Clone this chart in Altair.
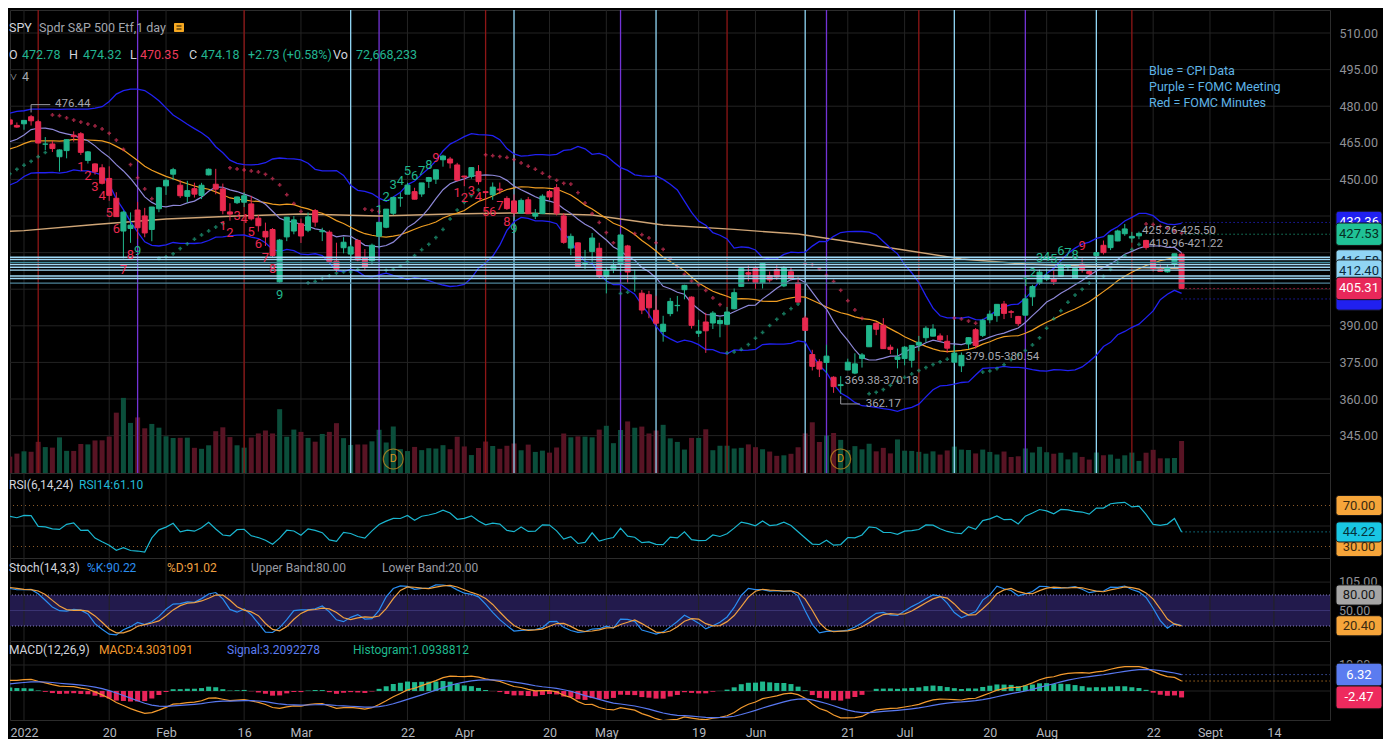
import altair as alt
import numpy as np
import pandas as pd

FONT = "Roboto"
BG = "#000000"
GRID = "#232323"
UP = "#21b68c"
DOWN = "#e8294f"
VOL_UP = "#0b4e3b"
VOL_DOWN = "#581424"
TXT = "#d1d4dc"
TXT_G = "#22b591"
TXT_R = "#ee3a5a"
TXT_GRAY = "#a3a6ae"

W = 1320
H_MAIN, H_RSI, H_STO, H_MACD = 463, 85, 83, 79
TOP_MAIN = 8
TOP_RSI = TOP_MAIN + H_MAIN
TOP_STO = TOP_RSI + H_RSI
TOP_MACD = TOP_STO + H_STO

# ---------------- data ----------------
# Oct-Nov 2021 closes: only used to warm up RSI / MACD (off-screen)
WARM_CLOSE = [434.24, 428.64, 433.10, 434.90, 438.66, 437.86, 434.69, 433.62, 435.18, 442.50,
              445.87, 447.19, 450.64, 452.41, 453.59, 453.12, 455.55, 455.96, 453.94, 458.32, 459.25,
              460.04, 461.90, 466.09, 467.69, 468.53, 468.93, 467.38, 463.62, 463.77, 467.27,
              467.43, 469.28, 468.14, 469.73, 468.89, 467.57, 468.19, 469.44, 458.97, 464.60, 455.56]

# Dec 2021 daily bars (last ones sit at the left edge of the chart)
DEC_O = [461.64, 450.73, 459.17, 456.13, 464.41, 468.70, 468.15, 469.23, 470.19, 463.09, 463.42,
         472.57, 461.55, 454.48, 458.61, 462.79, 468.75, 472.06, 477.72, 476.98, 477.93, 475.64]
DEC_H = [464.67, 459.07, 460.30, 460.79, 468.88, 470.00, 469.63, 470.90, 470.56, 465.74, 470.86,
         472.87, 464.74, 455.40, 463.21, 467.81, 472.19, 477.31, 478.81, 478.56, 479.00, 476.86]
DEC_L = [450.29, 450.31, 448.92, 453.56, 458.65, 466.83, 466.14, 466.51, 466.27, 460.25, 460.74,
         464.80, 458.06, 451.14, 456.31, 462.58, 468.64, 472.01, 476.06, 475.92, 475.67, 474.67]
DEC_C = [450.50, 457.40, 453.42, 458.79, 468.28, 469.52, 466.35, 470.74, 466.57, 463.36, 470.60,
         466.45, 459.87, 454.98, 463.06, 467.69, 470.60, 477.26, 476.87, 477.48, 476.16, 474.96]
DEC_V = [132, 127, 137, 98, 95, 72, 61, 85, 87, 98, 116, 116, 182, 107, 69, 58, 57, 56, 47, 54, 55, 65]

# 2022 daily bars, Jan 3 .. Aug 26 (raw prices, volume in millions)
OPEN_22 = [
    476.30, 479.22, 477.16, 467.89, 467.95, 462.70, 465.23, 471.59, 472.19, 461.19,
    459.74, 458.13, 453.75, 445.56, 432.03, 433.06, 440.72, 438.26, 432.68, 441.24,
    450.68, 455.50, 450.95, 446.35, 449.51, 446.73, 455.22, 451.34, 449.41, 439.92,
    443.73, 443.93, 443.22, 437.33, 431.89, 432.66, 411.02, 429.61, 432.03,
    435.04, 432.37, 440.47, 431.75, 431.55, 419.62, 425.14, 422.52, 428.12, 420.89,
    419.77, 429.89, 433.59, 438.00, 444.34, 445.86, 446.91, 445.94, 451.16, 452.06,
    460.02, 460.34, 457.89,
    453.31, 453.13, 455.22, 446.89, 445.59, 447.97, 444.11, 443.08, 438.03, 443.55,
    436.81, 437.86, 446.92, 448.54, 436.91, 423.67, 425.83, 417.24, 422.29, 423.59,
    412.07, 415.01, 417.08, 424.55, 411.10, 405.10, 404.49, 398.07, 389.37, 396.71,
    399.98, 406.53, 403.50, 388.62, 393.25, 392.83, 392.56, 392.31, 398.67, 407.91, 413.55,
    415.17, 409.42, 412.40, 414.78, 408.10, 413.93, 409.34, 394.88, 379.85, 376.85,
    376.58, 370.51, 365.51, 371.89, 370.62, 376.64, 381.40, 391.05, 390.23, 381.23, 376.24,
    376.56, 375.88, 382.11, 385.12, 385.76, 385.85, 383.65, 375.10, 373.61, 382.55,
    388.38, 386.08, 392.47, 394.16, 398.92, 395.75, 393.84, 394.36, 401.89, 407.58,
    409.15, 409.12, 410.30, 414.37, 409.66, 415.25, 412.22, 418.78, 422.99, 422.03,
    424.77, 427.73, 425.98, 426.86, 424.98, 417.05, 412.92, 412.11, 415.24, 419.39]
HIGH_22 = [
    477.85, 479.98, 477.98, 470.82, 469.20, 465.74, 469.85, 473.20, 472.88, 465.09,
    459.96, 459.61, 458.74, 448.06, 440.38, 439.72, 444.04, 441.59, 442.00, 450.28,
    453.63, 458.12, 452.97, 452.78, 451.99, 451.92, 457.88, 457.71, 451.61, 443.50,
    446.28, 448.06, 446.57, 438.66, 435.50, 433.26, 428.76, 437.84, 438.20,
    437.17, 439.72, 441.11, 433.37, 432.30, 427.21, 429.51, 426.43, 428.77, 424.55,
    426.84, 435.68, 441.07, 444.86, 446.46, 450.58, 448.49, 450.50, 452.98, 455.91,
    462.07, 461.20, 458.76,
    453.46, 456.91, 457.83, 447.18, 450.69, 450.63, 445.00, 445.75, 444.11, 444.73,
    439.75, 445.80, 447.57, 450.01, 438.08, 429.64, 426.04, 422.92, 429.87, 425.87,
    415.92, 418.93, 429.66, 425.00, 414.80, 406.41, 406.08, 404.04, 395.80, 403.18,
    403.97, 408.57, 403.80, 394.14, 397.03, 397.73, 395.15, 399.45, 407.04, 415.38, 416.46,
    416.24, 417.44, 414.04, 416.61, 416.22, 415.82, 411.74, 395.78, 381.81, 377.94,
    383.90, 370.94, 369.38, 376.53, 378.72, 378.83, 390.09, 391.36, 393.16, 382.27, 380.66,
    381.70, 381.98, 385.87, 389.83, 390.64, 386.87, 386.16, 381.92, 379.05, 385.25,
    389.09, 392.87, 396.26, 398.84, 400.18, 396.47, 394.06, 402.88, 406.80, 413.03,
    413.41, 412.60, 415.68, 415.09, 414.15, 417.62, 412.75, 420.01, 424.95, 427.21,
    429.40, 431.73, 428.50, 428.61, 425.26, 417.18, 415.42, 415.11, 419.56, 419.96]
LOW_22 = [
    473.85, 475.58, 468.28, 465.43, 464.65, 456.60, 462.05, 468.94, 463.44, 459.90,
    455.31, 451.29, 444.50, 437.95, 420.76, 427.15, 428.86, 429.45, 427.82, 439.81,
    446.94, 453.05, 445.71, 443.83, 445.85, 445.22, 455.00, 447.20, 438.94, 436.31,
    443.18, 441.94, 436.42, 431.82, 425.86, 421.35, 410.64, 427.86, 430.70,
    427.11, 431.57, 433.80, 427.88, 419.36, 415.12, 422.82, 420.44, 419.53, 415.79,
    418.42, 424.80, 433.19, 437.22, 440.68, 445.86, 443.71, 444.76, 448.43, 450.06,
    457.18, 456.47, 451.16,
    449.14, 452.26, 449.82, 443.49, 443.53, 445.94, 439.39, 436.65, 437.84, 437.68,
    435.61, 437.68, 443.48, 437.10, 425.44, 420.76, 416.07, 415.01, 417.60, 411.21,
    405.02, 413.36, 413.71, 409.44, 405.73, 396.50, 394.82, 391.96, 385.15, 395.61,
    397.60, 402.58, 390.55, 387.11, 380.54, 390.38, 386.96, 391.89, 398.45, 407.70, 410.03,
    406.93, 407.04, 409.51, 410.55, 407.61, 410.38, 401.44, 389.75, 373.30, 370.59,
    372.12, 364.08, 362.17, 371.81, 370.18, 372.89, 381.37, 386.16, 380.53, 378.42, 372.56,
    373.80, 372.90, 379.60, 383.27, 385.66, 383.50, 378.99, 374.66, 371.04, 380.54,
    380.66, 385.39, 391.03, 391.63, 392.75, 393.21, 389.95, 394.05, 398.15, 406.77,
    408.40, 406.74, 410.00, 412.44, 409.60, 411.83, 410.22, 416.40, 419.21, 421.03,
    424.68, 426.88, 424.06, 425.50, 421.22, 412.22, 412.30, 411.77, 413.88, 405.25]
CLOSE_22 = [
    477.71, 477.55, 468.38, 467.94, 466.09, 465.51, 469.75, 471.02, 464.53, 464.72,
    456.49, 451.75, 446.75, 437.98, 439.84, 434.47, 433.38, 431.24, 441.95, 449.91,
    452.95, 457.35, 446.60, 448.70, 447.26, 450.94, 457.54, 449.32, 440.46, 439.02,
    446.10, 446.60, 437.06, 434.23, 429.57, 421.95, 428.30, 437.75, 436.63,
    429.98, 437.89, 435.71, 432.17, 419.43, 416.25, 427.41, 425.48, 420.07, 417.00,
    426.17, 435.62, 441.07, 444.52, 444.39, 449.59, 443.80, 450.49, 452.69, 455.91,
    461.55, 458.70, 451.64,
    452.92, 456.80, 451.03, 446.52, 448.77, 447.57, 439.92, 438.29, 443.31, 437.79,
    437.97, 445.04, 444.71, 438.06, 426.04, 428.51, 416.10, 417.27, 427.81, 412.00,
    414.48, 416.38, 429.06, 413.81, 411.34, 398.17, 399.09, 392.75, 392.34, 401.72,
    400.09, 408.32, 391.86, 389.46, 389.63, 396.92, 393.89, 397.37, 405.31, 415.26, 412.93,
    409.59, 417.39, 410.54, 411.79, 415.74, 411.22, 401.44, 389.80, 375.00, 373.87,
    379.20, 366.65, 365.86, 375.07, 374.39, 378.06, 390.08, 388.59, 380.65, 380.34, 377.25,
    381.24, 381.96, 383.25, 388.99, 388.67, 384.23, 380.83, 378.83, 377.91, 385.13,
    381.95, 392.27, 394.77, 398.79, 395.09, 395.57, 390.89, 401.04, 406.07, 411.99,
    410.77, 408.06, 415.17, 414.80, 413.47, 412.99, 411.35, 419.99, 419.99, 427.10,
    428.86, 429.70, 426.65, 427.89, 422.14, 413.35, 412.35, 413.67, 419.51, 405.31]
VOLUME_22 = [
    72.7, 71.2, 104.5, 86.9, 85.1, 119.4, 74.3, 74.0, 97.3, 95.9,
    109.1, 109.6, 122.4, 202.3, 251.8, 167.9, 186.4, 149.9, 164.5, 152.0,
    123.2, 117.4, 118.0, 118.5, 84.4, 81.1, 92.9, 140.1, 153.2, 120.4,
    92.9, 85.0, 118.8, 132.6, 142.2, 132.6, 213.9, 121.6, 145.6,
    137.8, 117.7, 105.0, 130.9, 137.9, 167.1, 116.9, 94.0, 95.6, 95.7,
    106.2, 144.9, 102.3, 155.9, 80.1, 73.6, 87.4, 76.7, 83.1, 81.9,
    93.3, 79.7, 121.7,
    89.0, 60.2, 83.9, 105.5, 90.5, 81.1, 91.3, 99.0, 76.2, 95.2,
    70.7, 75.0, 68.3, 85.5, 132.4, 119.6, 122.8, 122.0, 119.6, 145.5,
    158.3, 100.0, 144.2, 172.9, 151.8, 155.6, 132.5, 142.4, 161.5, 116.2,
    104.2, 78.6, 117.7, 117.5, 146.6, 76.4, 91.4, 91.5, 82.2, 84.4, 95.9,
    86.6, 79.6, 71.9, 57.5, 59.3, 64.4, 86.3, 132.9, 170.0, 104.0,
    125.7, 134.1, 111.1, 76.8, 90.1, 79.3, 98.1, 72.6, 84.3, 65.7, 112.5,
    74.8, 74.1, 71.0, 64.8, 72.6, 61.7, 75.5, 88.5, 78.5, 77.2,
    65.6, 78.5, 70.6, 62.0, 72.0, 53.6, 56.0, 82.3, 68.5, 87.7,
    69.6, 64.6, 67.9, 45.6, 68.7, 53.9, 44.9, 68.7, 59.5, 61.8,
    47.8, 59.3, 68.4, 40.6, 68.0, 77.7, 49.2, 49.3, 50.3, 107.2]
for arr in (OPEN_22, HIGH_22, LOW_22, CLOSE_22, VOLUME_22):
    assert len(arr) == 164, len(arr)

# ex-dividend bars (position counted from Dec 1 2021) and amounts: chart is dividend-adjusted
EX_DIV_POS = [12, 74, 137]
EX_DIV_AMT = [1.633, 1.366, 1.577]

# event lines (trading-day index from Jan 3 2022)
EVENT_I = [2, 16, 31, 46, 50, 65, 69, 84, 89, 99, 110, 113, 126, 131, 141, 151, 156]
EVENT_KIND = ["min", "fomc", "min", "cpi", "fomc", "min", "cpi", "fomc", "cpi", "min",
              "cpi", "fomc", "min", "cpi", "fomc", "cpi", "min"]
EVENT_COLOR = {"min": "#8e1616", "fomc": "#7333d6", "cpi": "#92d7f6"}

# long moving average (index, price)
LONG_MA_I = [-3, 0, 10, 20, 30, 39, 50, 60, 70, 80, 90, 100, 109, 123, 132, 141, 152, 163]
LONG_MA_P = [428.6, 429.0, 431.5, 433.8, 435.0, 435.8, 435.0, 435.8, 436.3, 435.4,
             431.3, 429.5, 427.6, 421.5, 417.4, 415.3, 414.2, 413.5]

# horizontal level lines
HLINE_P = [418.1, 417.2, 416.0, 415.1, 414.0, 412.8, 410.4, 409.4, 407.5]
HLINE_C = ["#9fd8f5", "#9fd8f5", "#3f8c9c", "#9fd8f5", "#9fd8f5", "#9fd8f5", "#9fd8f5", "#9fd8f5", "#4e8399"]

# x ticks
TICK_I = [0, 12, 20, 31, 39, 54, 62, 74, 82, 95, 103, 116, 124, 136, 144, 159, 167, 176]
TICK_LABEL = ["2022", "20", "Feb", "16", "Mar", "22", "Apr", "20", "May", "19", "Jun", "21",
              "Jul", "20", "Aug", "22", "Sept", "14"]

PRICE_GRID = [345, 360, 375, 390, 405, 420, 435, 450, 465, 480, 495, 510]
PRICE_LABELS = [345, 360, 375, 390, 450, 465, 480, 495, 510]

# ---------------- derived series ----------------
nw = len(WARM_CLOSE)
o_raw = np.array(DEC_O + OPEN_22, float)
h_raw = np.array(DEC_H + HIGH_22, float)
l_raw = np.array(DEC_L + LOW_22, float)
v_all = np.array(DEC_V + VOLUME_22, float)
c_all_raw = np.array(WARM_CLOSE + DEC_C + CLOSE_22, float)
n = len(o_raw)

adj = np.ones(len(c_all_raw))
for pos, amt in zip(EX_DIV_POS, EX_DIV_AMT):
    p = pos + nw
    adj[:p] *= 1 - amt / c_all_raw[p - 1]
c_all = c_all_raw * adj
fb = adj[nw:]
o, h, l, c = o_raw * fb, h_raw * fb, l_raw * fb, c_all[nw:]

cs = pd.Series(c_all)
sma10 = cs.rolling(10).mean().values[nw:]
sma20s = cs.rolling(20).mean()
std20 = cs.rolling(20).std(ddof=0)
sma20 = sma20s.values[nw:]
bbu = (sma20s + 2 * std20).values[nw:]
bbl = (sma20s - 2 * std20).values[nw:]

delta = cs.diff()
ag = delta.clip(lower=0).ewm(alpha=1 / 14, adjust=False).mean()
al = (-delta.clip(upper=0)).ewm(alpha=1 / 14, adjust=False).mean()
rsi = (100 - 100 / (1 + ag / al)).values[nw:]

ema12 = cs.ewm(span=12, adjust=False).mean()
ema26 = cs.ewm(span=26, adjust=False).mean()
macd_s = ema12 - ema26
sig_s = macd_s.ewm(span=9, adjust=False).mean()
macd = macd_s.values[nw:]
sig = sig_s.values[nw:]
hist = (macd_s - sig_s).values[nw:]

hs, ls, ccs = pd.Series(h), pd.Series(l), pd.Series(c)
ll14 = ls.rolling(14).min()
hh14 = hs.rolling(14).max()
rawk = 100 * (ccs - ll14) / (hh14 - ll14)
stk = rawk.rolling(3).mean()
std_ = stk.rolling(3).mean()


def psar(hh, lw, step=0.02, mx=0.2):
    out = np.zeros(len(hh))
    upt = np.zeros(len(hh), bool)
    up, af, ep, s = True, step, hh[0], lw[0]
    out[0], upt[0] = s, up
    for t in range(1, len(hh)):
        s = s + af * (ep - s)
        if up:
            s = min(s, lw[t - 1], lw[t - 2] if t > 1 else lw[t - 1])
            if lw[t] < s:
                up, s, ep, af = False, ep, lw[t], step
            elif hh[t] > ep:
                ep, af = hh[t], min(af + step, mx)
        else:
            s = max(s, hh[t - 1], hh[t - 2] if t > 1 else hh[t - 1])
            if hh[t] > s:
                up, s, ep, af = True, ep, hh[t], step
            elif lw[t] < ep:
                ep, af = lw[t], min(af + step, mx)
        out[t], upt[t] = s, up
    return out, upt


sar, sar_up = psar(h, l)


def td_setup(cc, sign):
    cnt = np.zeros(len(cc), int)
    for t in range(4, len(cc)):
        cnt[t] = cnt[t - 1] + 1 if sign * (cc[t] - cc[t - 4]) > 0 else 0
    show = np.zeros(len(cc), int)
    for t in range(len(cc)):
        if cnt[t] == 9:
            for k in range(9):
                show[t - k] = 9 - k
    return show


td_buy = td_setup(c_all, -1)[nw:]
td_sell = td_setup(c_all, 1)[nw:]

idx = np.arange(n) - len(DEC_O)
upb = c >= o
df = pd.DataFrame({
    "i": idx, "o": o, "h": h, "l": l, "c": c, "v": v_all,
    "col": np.where(upb, UP, DOWN), "vcol": np.where(upb, VOL_UP, VOL_DOWN),
    "sma10": sma10, "sma20": sma20, "bbu": bbu, "bbl": bbl,
    "sar": sar, "sarcol": np.where(sar_up, "#1fa37f", "#d8325a"),
    "rsi": rsi, "k": stk.values, "d": std_.values,
    "macd": macd, "sig": sig, "hist": hist, "hcol": np.where(hist >= 0, "#1fb88d", "#e8245a"),
    "tdb": td_buy, "tds": td_sell,
})
df = df[df.i >= -4].reset_index(drop=True)

td_b = df[df.tdb > 0].copy()
td_b["n"] = td_b.tdb.astype(str)
td_b["tc"] = np.where(td_b["n"] == "9", UP, DOWN)
td_s = df[df.tds > 0].copy()
td_s["n"] = td_s.tds.astype(str)
td_s["tc"] = np.where(td_s["n"] == "9", DOWN, UP)

ev = pd.DataFrame({"i": EVENT_I, "ec": [EVENT_COLOR[k] for k in EVENT_KIND]})
lma = pd.DataFrame({"i": LONG_MA_I, "p": LONG_MA_P})
hl = pd.DataFrame({"p": HLINE_P, "hc": HLINE_C})
ticks = pd.DataFrame({"i": TICK_I})
last = df.iloc[[-1]]


# ---------------- scales (pixel layout of the reference) ----------------
def lin(v1, y1, v2, y2, top, bot):
    k = (y2 - y1) / (v2 - v1)
    return [v1 + (bot - y1) / k, v1 + (top - y1) / k]


XS = alt.Scale(domain=[-1.97, 183.9], nice=False, zero=False, padding=0)
YS = alt.Scale(domain=lin(510, 31, 345, 433.6, TOP_MAIN, TOP_MAIN + H_MAIN), nice=False, zero=False)
VS = alt.Scale(domain=[0, 252 * (H_MAIN - 1) / 75], nice=False, zero=False)
RS = alt.Scale(domain=lin(70, 503.5, 30, 544.5, TOP_RSI, TOP_RSI + H_RSI), nice=False, zero=False)
SS = alt.Scale(domain=lin(80, 593, 20, 624, TOP_STO, TOP_STO + H_STO), nice=False, zero=False)
MS = alt.Scale(domain=lin(10, 663, 0, 689, TOP_MACD, TOP_MACD + H_MACD), nice=False, zero=False)


def X():
    return alt.X("i:Q", scale=XS, axis=None)


def Yp(f, s=YS):
    return alt.Y(f"{f}:Q", scale=s, axis=None)


def texts(rows, size=12.5, top=8):
    d = pd.DataFrame(rows, columns=["t", "x", "y", "c"])
    d["x"] = d["x"] - 9
    d["y"] = d["y"] - top
    return alt.Chart(d).mark_text(font=FONT, fontSize=size, align="left", baseline="middle").encode(
        x=alt.X("x:Q", scale=None, axis=None), y=alt.Y("y:Q", scale=None, axis=None),
        text="t:N", color=alt.Color("c:N", scale=None))


def boxes(items, scale, half):
    out = []
    for lab, val, fill, tcol in items:
        d = pd.DataFrame({"v": [val], "lab": [lab], "top": [val + half], "bot": [val - half]})
        out.append(alt.Chart(d).mark_rect(fill=fill, cornerRadius=3, stroke="#151515", strokeWidth=1).encode(
            x=alt.value(1326), x2=alt.value(1372), y=Yp("top", scale), y2="bot:Q"))
        if lab:
            out.append(alt.Chart(d).mark_text(font=FONT, fontSize=13, align="center", baseline="middle",
                                              color=tcol).encode(
                x=alt.value(1349), y=Yp("v", scale), text="lab:N"))
    return out


def plain_labels(items, scale):
    d = pd.DataFrame({"v": [a[1] for a in items], "lab": [a[0] for a in items]})
    return alt.Chart(d).mark_text(font=FONT, fontSize=12.5, align="left", baseline="middle",
                                  color="#8f9096").encode(x=alt.value(1329), y=Yp("v", scale), text="lab:N")


vgrid = alt.Chart(ticks).mark_rule(color=GRID, strokeWidth=1).encode(x=X())

# ---------------- main panel ----------------
price_axis = alt.Axis(orient="right", values=PRICE_LABELS, format=".2f", grid=False,
                      labelColor="#8f9096", labelFontSize=12.5, labelFont=FONT, labelPadding=9,
                      ticks=False, domain=False, title=None)

main_layers = [
    vgrid,
    alt.Chart(pd.DataFrame({"p": PRICE_GRID})).mark_rule(color=GRID).encode(y=Yp("p")),
    alt.Chart(df).mark_point(opacity=0, clip=True).encode(x=X(), y=alt.Y("c:Q", scale=YS, axis=price_axis)),
    alt.Chart(df).mark_bar(size=5, clip=True).encode(
        x=X(), y=Yp("v", VS), y2=alt.datum(0), color=alt.Color("vcol:N", scale=None)),
    alt.Chart(ev).mark_rule(strokeWidth=1.3).encode(x=X(), color=alt.Color("ec:N", scale=None)),
    alt.Chart(lma).mark_line(color="#cfa576", strokeWidth=1.4, clip=True).encode(x=X(), y=Yp("p")),
    alt.Chart(df).mark_line(color="#2121f2", strokeWidth=1.3, clip=True).encode(x=X(), y=Yp("bbu")),
    alt.Chart(df).mark_line(color="#2121f2", strokeWidth=1.3, clip=True).encode(x=X(), y=Yp("bbl")),
    alt.Chart(df).mark_line(color="#ef9d22", strokeWidth=1.2, clip=True).encode(x=X(), y=Yp("sma20")),
    alt.Chart(df).mark_line(color="#8e88d8", strokeWidth=1.2, clip=True).encode(x=X(), y=Yp("sma10")),
    alt.Chart(df).mark_point(shape="cross", filled=True, size=14, clip=True).encode(
        x=X(), y=Yp("sar"), color=alt.Color("sarcol:N", scale=None)),
    alt.Chart(df).mark_rule(strokeWidth=1, clip=True).encode(
        x=X(), y=Yp("l"), y2="h:Q", color=alt.Color("col:N", scale=None)),
    alt.Chart(df).mark_bar(size=5, clip=True, strokeWidth=1).encode(
        x=X(), y=Yp("o"), y2="c:Q", color=alt.Color("col:N", scale=None),
        stroke=alt.Stroke("col:N", scale=None)),
    alt.Chart(hl).mark_rule(strokeWidth=1.4).encode(y=Yp("p"), color=alt.Color("hc:N", scale=None)),
    alt.Chart(td_b).mark_text(font=FONT, fontSize=13, dy=12, clip=True).encode(
        x=X(), y=Yp("l"), text="n:N", color=alt.Color("tc:N", scale=None)),
    alt.Chart(td_s).mark_text(font=FONT, fontSize=13, dy=-12, clip=True).encode(
        x=X(), y=Yp("h"), text="n:N", color=alt.Color("tc:N", scale=None)),
]

# dotted lines from the last bar to the price scale
for val, colr in [(432.36, "#2a2aff"), (427.53, "#20c196"), (405.31, "#e8285a"), (401.0, "#2a2aff")]:
    d = pd.DataFrame({"i": [163], "p": [val]})
    main_layers.append(alt.Chart(d).mark_rule(color=colr, strokeDash=[1, 3], strokeWidth=1).encode(
        x=X(), x2=alt.value(W), y=Yp("p")))

# high / low markers: bracket from the bar to its label
BRACKETS = [(1, 476.44, 1), (115, 362.17, -1)]   # (bar, price, direction up/down)
for bi, bp, sgn in BRACKETS:
    d = pd.DataFrame({"i": [bi], "i2": [bi + 2.7], "p0": [bp + sgn * 1.0], "p1": [bp + sgn * 4.2]})
    main_layers.append(alt.Chart(d).mark_rule(color="#9a9aa2", strokeWidth=1).encode(
        x=X(), y=Yp("p0"), y2="p1:Q"))
    main_layers.append(alt.Chart(d).mark_rule(color="#9a9aa2", strokeWidth=1).encode(
        x=X(), x2="i2:Q", y=Yp("p1")))

ANNOT = [("476.44", 1, 476.44, 24, -11), ("369.38-370.18", 115, 369.38, 4, 5),
         ("362.17", 115, 362.17, 25, 10), ("379.05-380.54", 132, 379.05, 4, 4),
         ("425.26-425.50", 158, 425.26, -4, -9), ("419.96-421.22", 158, 421.22, 3, -6)]
for t, ii, p, dx, dy in ANNOT:
    d = pd.DataFrame({"i": [ii], "p": [p], "t": [t]})
    main_layers.append(alt.Chart(d).mark_text(font=FONT, fontSize=11.5, align="left", baseline="middle",
                                              dx=dx, dy=dy, color="#a6a6ae").encode(x=X(), y=Yp("p"), text="t:N"))

ddf = pd.DataFrame({"i": [52, 115], "t": ["D", "D"]})
main_layers.append(alt.Chart(ddf).mark_point(shape="circle", size=400, color="#d4951f", strokeWidth=1.2,
                                             filled=False).encode(x=X(), y=alt.value(449)))
main_layers.append(alt.Chart(ddf).mark_text(font=FONT, fontSize=11, color="#d4951f").encode(
    x=X(), y=alt.value(449), text="t:N"))

main_layers.append(texts([
    ("SPY", 8, 26, TXT), ("Spdr S&P 500 Etf,1 day", 38, 26, TXT_GRAY),
    ("O", 8, 53, TXT), ("472.78", 21, 53, TXT_G), ("H", 68, 53, TXT), ("474.32", 82, 53, TXT_G),
    ("L", 129, 53, TXT), ("470.35", 139, 53, TXT_R), ("C", 188, 53, TXT), ("474.18", 200, 53, TXT_G),
    ("+2.73 (+0.58%)", 247, 53, TXT_G), ("Vo", 332, 53, TXT), ("72,668,233", 355, 53, TXT_G),
    ("˅", 9, 75, TXT_GRAY), ("4", 21, 75, TXT_GRAY),
], top=TOP_MAIN))
main_layers.append(texts([
    ("Blue = CPI Data", 1148, 69, "#5fb4e6"), ("Purple = FOMC Meeting", 1148, 85, "#5fb4e6"),
    ("Red = FOMC Minutes", 1148, 101, "#5fb4e6"),
], size=12.5, top=TOP_MAIN))
main_layers.append(alt.Chart(ddf.iloc[[0]]).mark_rect(fill="#f6a821", cornerRadius=1).encode(
    x=alt.value(164), x2=alt.value(174), y=alt.value(13), y2=alt.value(22)))
for yy in (16, 19):
    main_layers.append(alt.Chart(ddf.iloc[[0]]).mark_rule(color="#3a2a05", strokeWidth=1.2).encode(
        x=alt.value(166.5), x2=alt.value(171.5), y=alt.value(yy)))

main_layers += boxes([
    ("", 401.0, "#2020f0", "#ffffff"),
    ("432.36", 432.36, "#2020f0", "#ffffff"),
    ("427.53", 427.53, "#20c196", "#062e22"),
    ("416.58", 416.58, "#90d4f4", "#0b2b40"),
    ("412.40", 412.40, "#90d4f4", "#0b2b40"),
    ("405.31", 405.31, "#e8285a", "#ffffff"),
], YS, 4.6)

main = alt.layer(*main_layers).properties(width=W, height=H_MAIN).resolve_scale(y="independent")

# ---------------- RSI ----------------
rsi_layers = [
    vgrid,
    alt.Chart(pd.DataFrame({"p": [50]})).mark_rule(color=GRID).encode(y=Yp("p", RS)),
    alt.Chart(pd.DataFrame({"p": [70, 30]})).mark_rule(color="#8a5a2a", strokeDash=[1, 3]).encode(y=Yp("p", RS)),
    alt.Chart(df).mark_line(color="#1ab6d0", strokeWidth=1.2, clip=True).encode(x=X(), y=Yp("rsi", RS)),
    alt.Chart(last).mark_rule(color="#1ab6d0", strokeDash=[1, 3]).encode(x=X(), x2=alt.value(W), y=Yp("rsi", RS)),
    texts([("RSI(6,14,24)", 8, 483, TXT), ("RSI14:61.10", 78, 483, "#21b8d4")], size=12, top=TOP_RSI),
]
rsi_layers += boxes([("30.00", 30, "#f6a53a", "#3a2a10"), ("70.00", 70, "#f6a53a", "#3a2a10"),
                     ("44.22", 44.22, "#19c6e3", "#05323a")], RS, 9.8)
rsi_chart = alt.layer(*rsi_layers).properties(width=W, height=H_RSI)

# ---------------- Stoch ----------------
sto_layers = [
    alt.Chart(pd.DataFrame({"a": [20], "b": [80]})).mark_rect(fill="#221a4c").encode(
        x=alt.value(0), x2=alt.value(W), y=Yp("a", SS), y2="b:Q"),
    vgrid,
    alt.Chart(pd.DataFrame({"p": [105]})).mark_rule(color=GRID).encode(y=Yp("p", SS)),
    alt.Chart(pd.DataFrame({"p": [50]})).mark_rule(color="#3a3372").encode(y=Yp("p", SS)),
    alt.Chart(pd.DataFrame({"p": [80, 20]})).mark_rule(color="#8580c0", strokeDash=[1, 2]).encode(y=Yp("p", SS)),
    alt.Chart(df).mark_line(color="#2a8ef2", strokeWidth=1.2, clip=True).encode(x=X(), y=Yp("k", SS)),
    alt.Chart(df).mark_line(color="#f0a040", strokeWidth=1.2, clip=True).encode(x=X(), y=Yp("d", SS)),
    texts([("Stoch(14,3,3)", 8, 566, TXT), ("%K:90.22", 86, 566, "#2b8ef0"), ("%D:91.02", 166, 566, "#f0a040"),
           ("Upper Band:80.00", 250, 566, "#9a9ca4"), ("Lower Band:20.00", 381, 566, "#9a9ca4")],
          size=12, top=TOP_STO),
    plain_labels([("105.00", 105), ("50.00", 50)], SS),
]
sto_layers += boxes([("80.00", 80, "#a6a6a6", "#161616"), ("20.40", 20.40, "#f6a53a", "#3a2a10")], SS, 19.5)
sto_chart = alt.layer(*sto_layers).properties(width=W, height=H_STO)

# ---------------- MACD ----------------
label_expr = " : ".join(f"datum.value == {i} ? '{t}'" for i, t in zip(TICK_I, TICK_LABEL)) + " : ''"
x_axis = alt.Axis(values=TICK_I, labelExpr=label_expr, grid=False, ticks=False, domain=False,
                  labelColor="#b4b7bf", labelFontSize=12.5, labelFont=FONT, labelPadding=6, title=None,
                  labelFlush=False, labelOverlap=False)


def XM():
    return alt.X("i:Q", scale=XS, axis=x_axis)


macd_layers = [
    alt.Chart(ticks).mark_rule(color=GRID, strokeWidth=1).encode(x=XM()),
    alt.Chart(pd.DataFrame({"p": [10, 0]})).mark_rule(color=GRID).encode(y=Yp("p", MS)),
    alt.Chart(df).mark_bar(size=5, clip=True).encode(
        x=XM(), y=Yp("hist", MS), y2=alt.datum(0), color=alt.Color("hcol:N", scale=None)),
    alt.Chart(df).mark_line(color="#f39a2e", strokeWidth=1.2, clip=True).encode(x=XM(), y=Yp("macd", MS)),
    alt.Chart(df).mark_line(color="#5878f0", strokeWidth=1.2, clip=True).encode(x=XM(), y=Yp("sig", MS)),
    alt.Chart(last).mark_rule(color="#5878f0", strokeDash=[1, 3]).encode(x=XM(), x2=alt.value(W), y=Yp("sig", MS)),
    alt.Chart(last).mark_rule(color="#f39a2e", strokeDash=[1, 3]).encode(x=XM(), x2=alt.value(W), y=Yp("macd", MS)),
    texts([("MACD(12,26,9)", 8, 648, TXT), ("MACD:4.3031091", 98, 648, "#f39a2e"),
           ("Signal:3.2092278", 226, 648, "#5b7cf0"), ("Histogram:1.0938812", 352, 648, "#1fb88d")],
          size=12, top=TOP_MACD),
    plain_labels([("10.00", 10)], MS),
]
macd_layers += boxes([("6.32", 6.32, "#5b7cf0", "#ffffff"), ("-2.47", -2.47, "#ee2a5e", "#ffffff")], MS, 4.4)
macd_chart = alt.layer(*macd_layers).properties(width=W, height=H_MACD)

chart = alt.vconcat(main, rsi_chart, sto_chart, macd_chart, spacing=0, bounds="flush").resolve_scale(
    x="independent", y="independent").properties(
    background=BG, padding={"left": 0, "top": 0, "right": 0, "bottom": 0}).configure_view(
    stroke="#2c2c2c", strokeWidth=1)

chart.save("out.html", embed_options={"renderer": "svg", "actions": False})
